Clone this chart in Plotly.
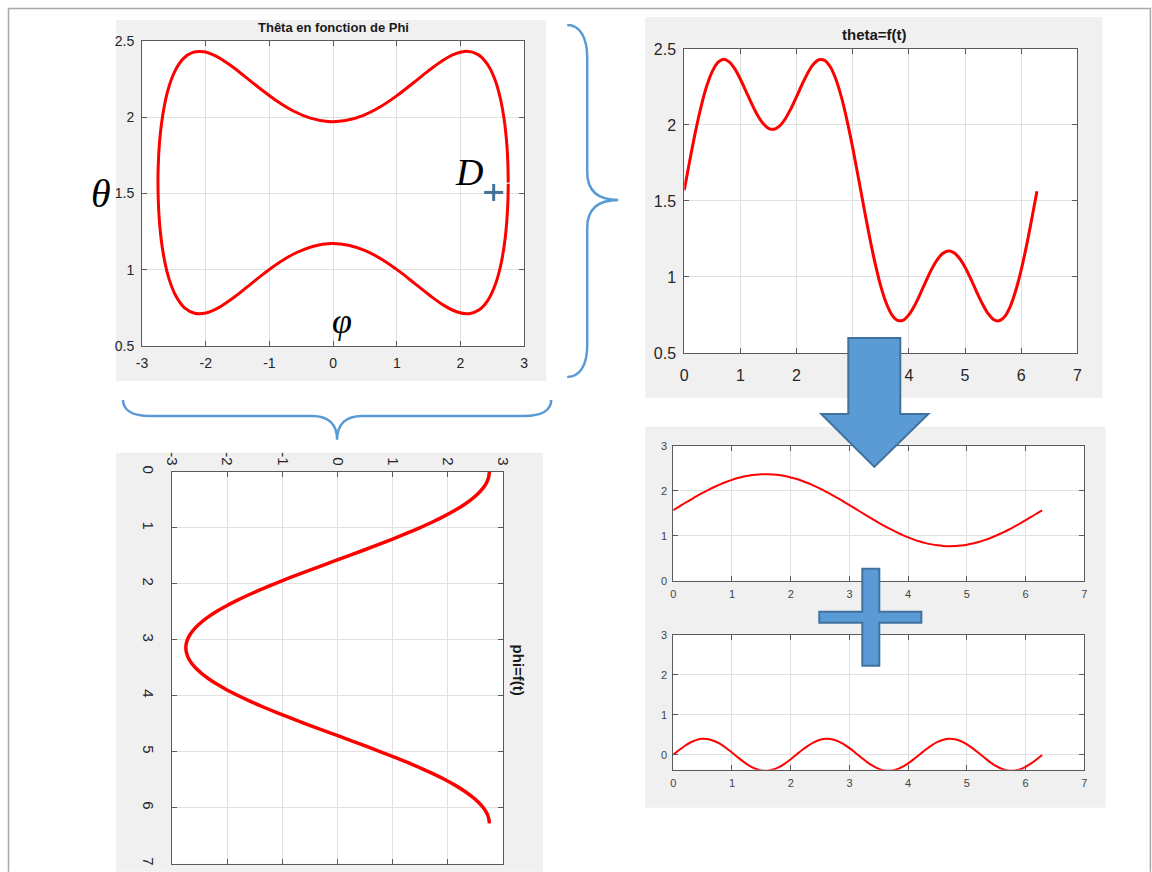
import plotly.graph_objects as go

# the page shows the figure offset by the body margin and slightly reduced,
# so target pixel positions are mapped back into figure pixels
OFF = 8
KX, KY = 0.985, 0.981
W, H = 1161, 881

# time samples (s) and the two angles
t = [0.0, 0.1, 0.2, 0.3, 0.4, 0.5, 0.6, 0.7, 0.8, 0.9, 1.0, 1.1, 1.2, 1.3, 1.4, 1.5,
     1.6, 1.7, 1.8, 1.9, 2.0, 2.1, 2.2, 2.3, 2.4, 2.5, 2.6, 2.7, 2.8, 2.9, 3.0, 3.1,
     3.2, 3.3, 3.4, 3.5, 3.6, 3.7, 3.8, 3.9, 4.0, 4.1, 4.2, 4.3, 4.4, 4.5, 4.6, 4.7,
     4.8, 4.9, 5.0, 5.1, 5.2, 5.3, 5.4, 5.5, 5.6, 5.7, 5.8, 5.9, 6.0, 6.1, 6.2, 6.28]

theta = [1.571, 1.769, 1.956, 2.121, 2.256, 2.353, 2.412, 2.432, 2.415, 2.369, 2.301,
         2.221, 2.140, 2.067, 2.011, 1.978, 1.972, 1.994, 2.041, 2.108, 2.187, 2.268,
         2.342, 2.399, 2.429, 2.425, 2.383, 2.301, 2.181, 2.027, 1.849, 1.654, 1.455,
         1.262, 1.087, 0.938, 0.825, 0.749, 0.714, 0.716, 0.751, 0.811, 0.887, 0.969,
         1.047, 1.111, 1.154, 1.171, 1.160, 1.123, 1.064, 0.989, 0.907, 0.829, 0.764,
         0.722, 0.711, 0.737, 0.802, 0.907, 1.047, 1.216, 1.406, 1.564]

phi = [2.750, 2.736, 2.695, 2.627, 2.533, 2.413, 2.270, 2.103, 1.916, 1.709, 1.486,
       1.247, 0.997, 0.736, 0.468, 0.194, -0.080, -0.354, -0.625, -0.889, -1.144,
       -1.388, -1.618, -1.832, -2.028, -2.203, -2.356, -2.486, -2.591, -2.670, -2.723,
       -2.748, -2.745, -2.716, -2.659, -2.575, -2.466, -2.332, -2.175, -1.996, -1.797,
       -1.581, -1.348, -1.102, -0.845, -0.580, -0.309, -0.034, 0.241, 0.513, 0.780,
       1.040, 1.288, 1.525, 1.745, 1.949, 2.133, 2.295, 2.435, 2.551, 2.641, 2.704,
       2.740, 2.750]

# slow and fast parts of theta
theta_slow = [1.571, 1.651, 1.730, 1.807, 1.883, 1.955, 2.023, 2.086, 2.145, 2.198, 2.244,
              2.284, 2.317, 2.342, 2.359, 2.369, 2.371, 2.364, 2.350, 2.328, 2.298, 2.262,
              2.218, 2.168, 2.111, 2.050, 1.983, 1.913, 1.839, 1.762, 1.684, 1.604, 1.524,
              1.445, 1.367, 1.290, 1.217, 1.147, 1.082, 1.021, 0.966, 0.916, 0.874, 0.838,
              0.810, 0.789, 0.776, 0.771, 0.774, 0.785, 0.804, 0.830, 0.864, 0.905, 0.953,
              1.007, 1.066, 1.130, 1.199, 1.272, 1.348, 1.425, 1.505, 1.568]

theta_fast = [0.000, 0.118, 0.226, 0.313, 0.373, 0.399, 0.390, 0.345, 0.270, 0.171, 0.056,
              -0.063, -0.177, -0.275, -0.349, -0.391, -0.399, -0.370, -0.309, -0.220,
              -0.112, 0.007, 0.125, 0.231, 0.318, 0.375, 0.399, 0.388, 0.342, 0.265, 0.165,
              0.050, -0.070, -0.183, -0.280, -0.352, -0.392, -0.398, -0.368, -0.305, -0.215,
              -0.105, 0.013, 0.131, 0.237, 0.322, 0.377, 0.400, 0.386, 0.338, 0.260, 0.159,
              0.043, -0.076, -0.189, -0.285, -0.355, -0.394, -0.397, -0.365, -0.300, -0.209,
              -0.099, -0.004]

tick_t = [0, 1, 2, 3, 4, 5, 6, 7]
tick_phi = [-3, -2, -1, 0, 1, 2, 3]
tick_phi_text = ["-3", "-2", "-1", "0", "1", "2", "3"]
tick_theta = [0.5, 1, 1.5, 2, 2.5]
tick_small = [0, 1, 2, 3]

SANS = "Liberation Sans, Arial, sans-serif"
SERIF = "Liberation Serif, DejaVu Serif, serif"
RED = "#ff0000"
BLUE = "#5b9bd5"
BLUE_EDGE = "#41719c"
PANEL = "#f0f0f0"


# screen pixel -> paper fraction
def fx(x):
    return (x - OFF) / KX / W


def fy(y):
    return 1 - (y - OFF) / KY / H


def path(points, close=True):
    s = "M " + " L ".join(f"{fx(x):.5f},{fy(y):.5f}" for x, y in points)
    return s + (" Z" if close else "")


def curve(cmds):
    out = []
    for c in cmds:
        op, pts = c[0], c[1:]
        out.append(op + " " + " ".join(f"{fx(x):.5f},{fy(y):.5f}" for x, y in pts))
    return " ".join(out)


fig = go.Figure()

# subplot boxes in screen pixels: (x0, x1, y_top, y_bottom)
boxes = {
    "1": (142, 524, 41, 346),
    "2": (684, 1077, 49, 353),
    "3": (172, 503, 472, 864),
    "4": (673, 1084, 446, 581),
    "5": (673, 1084, 635, 770),
}


def axis_common(size, color):
    return dict(
        showline=True, mirror="ticks", linecolor="#5a5a5a", linewidth=1,
        ticks="inside", ticklen=5, tickcolor="#5a5a5a",
        showgrid=True, gridcolor="#e0e0e0", gridwidth=1, zeroline=False,
        tickfont=dict(family=SANS, size=size, color=color),
        fixedrange=True,
    )


layout_axes = {}
for k, (x0, x1, yt, yb) in boxes.items():
    sx = "xaxis" if k == "1" else f"xaxis{k}"
    sy = "yaxis" if k == "1" else f"yaxis{k}"
    xa = "x" if k == "1" else f"x{k}"
    ya = "y" if k == "1" else f"y{k}"
    layout_axes[sx] = dict(domain=[fx(x0), fx(x1)], anchor=ya)
    layout_axes[sy] = dict(domain=[max(0.0, fy(yb)), fy(yt)], anchor=xa)

# top-left: theta vs phi
layout_axes["xaxis"].update(axis_common(14, "#262626"), range=[-3, 3],
                            tickvals=tick_phi, ticktext=tick_phi_text, ticklabelstandoff=4)
layout_axes["yaxis"].update(axis_common(14, "#262626"), range=[0.5, 2.5],
                            tickvals=tick_theta, ticklabelstandoff=4)
# top-right: theta(t)
layout_axes["xaxis2"].update(axis_common(16, "#262626"), range=[0, 7],
                             tickvals=tick_t, ticklabelstandoff=8)
layout_axes["yaxis2"].update(axis_common(16, "#262626"), range=[0.5, 2.5],
                             tickvals=tick_theta, ticklabelstandoff=4)
# bottom-left: phi(t), drawn turned a quarter turn
layout_axes["xaxis3"].update(axis_common(15, "#262626"), range=[-3, 3],
                             tickvals=tick_phi, ticktext=tick_phi_text, side="top",
                             tickangle=90, ticklabelstandoff=0)
layout_axes["yaxis3"].update(axis_common(15, "#262626"), range=[7, 0],
                             tickvals=tick_t, tickangle=90, ticklabelstandoff=10)
# bottom-right: the two parts of theta
for k in ("4", "5"):
    layout_axes[f"xaxis{k}"].update(axis_common(11, "#444444"),
                                    range=[0, 7], tickvals=tick_t, ticklabelstandoff=3)
layout_axes["yaxis4"].update(axis_common(11, "#444444"),
                             range=[0, 3], tickvals=tick_small, ticklabelstandoff=3)
layout_axes["yaxis5"].update(axis_common(11, "#444444"),
                             range=[-0.375, 3], tickvals=tick_small, ticklabelstandoff=3)

fig.add_trace(go.Scatter(x=phi, y=theta, mode="lines", xaxis="x", yaxis="y",
                         line=dict(color=RED, width=3, shape="spline"), hoverinfo="skip"))
fig.add_trace(go.Scatter(x=t, y=theta, mode="lines", xaxis="x2", yaxis="y2",
                         line=dict(color=RED, width=3, shape="spline"), hoverinfo="skip"))
fig.add_trace(go.Scatter(x=phi, y=t, mode="lines", xaxis="x3", yaxis="y3",
                         line=dict(color=RED, width=3.5, shape="spline"), hoverinfo="skip"))
fig.add_trace(go.Scatter(x=t, y=theta_slow, mode="lines", xaxis="x4", yaxis="y4",
                         line=dict(color=RED, width=2, shape="spline"), hoverinfo="skip"))
fig.add_trace(go.Scatter(x=t, y=theta_fast, mode="lines", xaxis="x5", yaxis="y5",
                         line=dict(color=RED, width=2, shape="spline"), hoverinfo="skip"))

shapes = []
# grey figure panels
for x0, x1, y0, y1 in [(116, 546, 20, 381), (645, 1102, 17, 398),
                       (116, 543, 453, 872), (645, 1105, 427, 808)]:
    shapes.append(dict(type="rect", xref="paper", yref="paper", layer="below",
                       x0=fx(x0), x1=fx(x1), y0=max(0.0, fy(y1)), y1=fy(y0),
                       fillcolor=PANEL, line=dict(width=0)))
# white plotting areas
for x0, x1, yt, yb in boxes.values():
    shapes.append(dict(type="rect", xref="paper", yref="paper", layer="below",
                       x0=fx(x0), x1=fx(x1), y0=fy(yb), y1=fy(yt),
                       fillcolor="white", line=dict(width=0)))
# page frame: left, top and right edges
shapes.append(dict(type="path", xref="paper", yref="paper", layer="below",
                   path=path([(8.5, 872), (8.5, 8.5), (1150, 8.5), (1150, 872)], close=False),
                   line=dict(color="#a8a8a8", width=1.5)))

# braces
shapes.append(dict(type="path", xref="paper", yref="paper", layer="above",
                   path=curve([("M", (567, 25)), ("C", (580, 25), (587, 38), (587, 58)),
                               ("L", (587, 172)), ("C", (587, 190), (597, 200), (618, 200)),
                               ("C", (597, 200), (587, 210), (587, 228)),
                               ("L", (587, 345)), ("C", (587, 365), (580, 377), (567, 377))]),
                   line=dict(color=BLUE, width=2.5)))
shapes.append(dict(type="path", xref="paper", yref="paper", layer="above",
                   path=curve([("M", (123, 400)), ("C", (123, 410), (132, 416), (150, 416)),
                               ("L", (312, 416)), ("C", (328, 416), (337, 424), (337, 440)),
                               ("C", (337, 424), (346, 416), (362, 416)),
                               ("L", (524, 416)), ("C", (542, 416), (551, 410), (551, 400))]),
                   line=dict(color=BLUE, width=2.5)))

# down arrow
shapes.append(dict(type="path", xref="paper", yref="paper", layer="above",
                   path=path([(848, 338), (900, 338), (900, 414), (928, 414), (874, 467),
                              (821, 414), (848, 414)]),
                   fillcolor=BLUE, line=dict(color=BLUE_EDGE, width=2)))
# plus sign
shapes.append(dict(type="path", xref="paper", yref="paper", layer="above",
                   path=path([(862, 569), (879, 569), (879, 612), (921, 612), (921, 623),
                              (879, 623), (879, 666), (862, 666), (862, 623), (819, 623),
                              (819, 612), (862, 612)]),
                   fillcolor=BLUE, line=dict(color=BLUE_EDGE, width=2)))
# point marker next to D
shapes.append(dict(type="line", xref="paper", yref="paper", layer="above",
                   x0=fx(484), x1=fx(503), y0=fy(192.5), y1=fy(192.5),
                   line=dict(color=BLUE_EDGE, width=3)))
shapes.append(dict(type="line", xref="paper", yref="paper", layer="above",
                   x0=fx(493.5), x1=fx(493.5), y0=fy(184), y1=fy(201),
                   line=dict(color=BLUE_EDGE, width=3)))

annotations = [
    dict(text="<b>Thêta en fonction de Phi</b>", x=fx(333), y=fy(28),
         font=dict(family=SANS, size=13, color="#1a1a1a")),
    dict(text="<b>theta=f(t)</b>", x=fx(874), y=fy(35),
         font=dict(family=SANS, size=15, color="#1a1a1a")),
    dict(text="<b>phi=f(t)</b>", x=fx(518), y=fy(670), textangle=90,
         font=dict(family=SANS, size=15, color="#1a1a1a")),
    dict(text="<i>θ</i>", x=fx(101), y=fy(194),
         font=dict(family=SERIF, size=40, color="black")),
    dict(text="<i>D</i>", x=fx(469), y=fy(172),
         font=dict(family=SERIF, size=38, color="black")),
    dict(text="<i>φ</i>", x=fx(342), y=fy(321),
         font=dict(family=SERIF, size=36, color="black")),
]
for a in annotations:
    a.update(xref="paper", yref="paper", showarrow=False, xanchor="center", yanchor="middle")

fig.update_layout(
    width=W, height=H, autosize=False,
    margin=dict(l=0, r=0, t=0, b=0, pad=0),
    paper_bgcolor="white", plot_bgcolor="rgba(0,0,0,0)",
    showlegend=False,
    shapes=shapes, annotations=annotations,
    **layout_axes,
)

fig.write_html("out.html", config={"displayModeBar": False})
